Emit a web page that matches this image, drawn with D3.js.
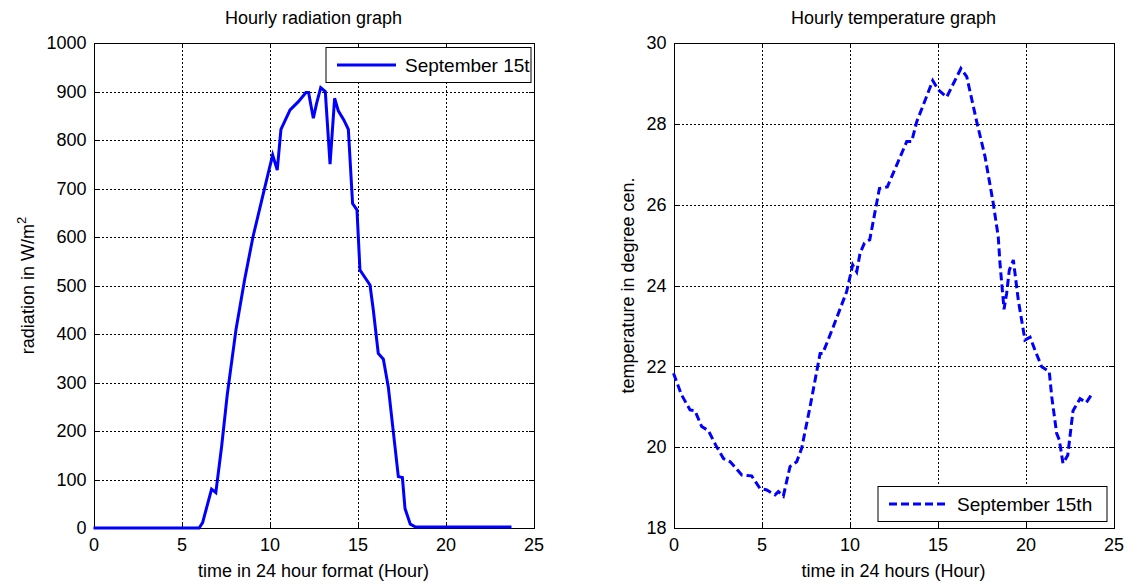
<!DOCTYPE html>
<meta charset="utf-8">
<style>
body { margin: 0; background: #fff; }
text { font-family: "Liberation Sans", Arial, sans-serif; fill: #000; }
.grid line { stroke: #000; stroke-dasharray: 2,2; shape-rendering: crispEdges; }
.grid path { display: none; }
.axis path, .axis line { stroke: #000; shape-rendering: crispEdges; }
.axis text { font-size: 18px; }
.lbl { font-size: 18px; }
.leg { font-size: 19px; }
</style>
<body>
<svg id="chart" width="1129" height="584"></svg>
<script src="https://d3js.org/d3.v7.min.js"></script>
<script>
// radiation readings, September 15th (hour, W/m2)
var radHours  = [0, 6.0, 6.2, 6.45, 6.71, 6.95, 7.28, 7.6, 8.1, 8.58, 9.06, 9.56, 9.95, 10.18, 10.44, 10.65, 11.17, 11.64, 12.07, 12.22, 12.49, 12.68, 12.91, 13.17, 13.44, 13.70, 13.91, 14.23, 14.48, 14.72, 14.97, 15.14, 15.71, 15.9, 16.18, 16.47, 16.75, 17.32, 17.55, 17.7, 18.0, 18.3, 23.75];
var radValues = [0, 0, 11, 45, 80, 73, 168, 275, 410, 511, 600, 676, 735, 769, 738, 822, 862, 879, 898, 898, 845, 876, 908, 900, 750, 886, 860, 841, 822, 669, 656, 532, 501, 449, 360, 348, 291, 106, 104, 40, 8, 2, 2];

// temperature readings (hour, deg C)
var tempHours  = [0, 0.45, 0.94, 1.22, 1.6, 1.98, 2.4, 2.84, 3.22, 3.88, 4.44, 4.91, 5.3, 5.77, 5.96, 6.24, 6.62, 7.0, 7.28, 7.76, 8.33, 8.48, 9.08, 9.84, 10.18, 10.41, 10.6, 10.85, 11.15, 11.7, 12.15, 12.68, 13.25, 13.53, 13.82, 14.73, 15.05, 15.52, 16.33, 16.66, 17.23, 17.7, 18.17, 18.45, 18.55, 18.78, 18.93, 19.08, 19.31, 19.59, 19.97, 20.26, 20.54, 20.92, 21.35, 21.49, 21.77, 21.92, 22.13, 22.4, 22.7, 23.1, 23.45, 23.75];
var tempValues = [21.83, 21.3, 20.92, 20.90, 20.51, 20.41, 20.05, 19.72, 19.64, 19.31, 19.29, 18.98, 18.94, 18.82, 18.90, 18.79, 19.52, 19.64, 19.97, 21.0, 22.32, 22.32, 22.98, 23.85, 24.51, 24.34, 24.80, 25.05, 25.13, 26.40, 26.44, 26.98, 27.56, 27.56, 28.05, 29.07, 28.84, 28.66, 29.37, 29.17, 28.05, 27.19, 26.03, 25.21, 24.55, 23.41, 23.81, 24.38, 24.63, 23.64, 22.65, 22.72, 22.40, 21.99, 21.87, 21.25, 20.34, 20.18, 19.6, 19.8, 20.9, 21.2, 21.1, 21.3];

var hourTicks = [0, 5, 10, 15, 20, 25];
var radTicks  = [0, 100, 200, 300, 400, 500, 600, 700, 800, 900, 1000];
var tempTicks = [18, 20, 22, 24, 26, 28, 30];
var seriesName = "September 15th";

var svg = d3.select("#chart");
var width = 440, height = 485;
var fmt = d3.format("d");

function panel(o) {
    var g = svg.append("g").attr("transform", "translate(" + o.left + "," + o.top + ")");

    var x = d3.scaleLinear().domain([0, 25]).range([0, width]);
    var y = d3.scaleLinear().domain(o.yDomain).range([height, 0]);

    // dotted grid
    g.append("g").attr("class", "grid")
        .attr("transform", "translate(0," + height + ")")
        .call(d3.axisBottom(x).tickValues(hourTicks.slice(1, -1)).tickSize(-height).tickFormat(""));
    g.append("g").attr("class", "grid")
        .call(d3.axisLeft(y).tickValues(o.yTicks.slice(1, -1)).tickSize(-width).tickFormat(""));

    // box with inward ticks on all sides
    g.append("g").attr("class", "axis")
        .attr("transform", "translate(0," + height + ")")
        .call(d3.axisBottom(x).tickValues(hourTicks).tickFormat(fmt).tickSizeInner(-5).tickSizeOuter(0).tickPadding(10));
    g.append("g").attr("class", "axis")
        .call(d3.axisTop(x).tickValues(hourTicks).tickSizeInner(-5).tickSizeOuter(0).tickFormat(""));
    g.append("g").attr("class", "axis")
        .call(d3.axisLeft(y).tickValues(o.yTicks).tickFormat(fmt).tickSizeInner(-5).tickSizeOuter(0).tickPadding(7));
    g.append("g").attr("class", "axis")
        .attr("transform", "translate(" + width + ",0)")
        .call(d3.axisRight(y).tickValues(o.yTicks).tickSizeInner(-5).tickSizeOuter(0).tickFormat(""));

    var line = d3.line()
        .x(function(d, i) { return x(o.xs[i]); })
        .y(function(d) { return y(d); });

    g.append("path")
        .datum(o.ys)
        .attr("fill", "none")
        .attr("stroke", "#0000ff")
        .attr("stroke-width", 3)
        .attr("stroke-dasharray", o.dash)
        .attr("d", line);

    // titles and labels
    g.append("text").attr("class", "lbl")
        .attr("x", width / 2).attr("y", -19)
        .attr("text-anchor", "middle").text(o.title);
    g.append("text").attr("class", "lbl")
        .attr("x", width / 2).attr("y", height + 49)
        .attr("text-anchor", "middle").text(o.xLabel);
    var yl = g.append("text").attr("class", "lbl")
        .attr("transform", "translate(" + o.yLabelX + "," + (height / 2) + ") rotate(-90)")
        .attr("text-anchor", "middle");
    yl.append("tspan").text(o.yLabel);
    if (o.yLabelSup) {
        yl.append("tspan").attr("dy", -8).attr("font-size", "13px").text(o.yLabelSup);
    }

    // legend, text clipped to its box
    var lw = o.legend[2], lh = 35;
    svg.append("clipPath").attr("id", o.id + "-clip")
        .append("rect").attr("width", lw).attr("height", lh);
    var lg = g.append("g").attr("transform", "translate(" + o.legend[0] + "," + o.legend[1] + ")");
    lg.append("rect").attr("width", lw).attr("height", lh)
        .attr("fill", "#fff").attr("stroke", "#000").attr("stroke-width", 1);
    lg.append("line").attr("x1", 11).attr("x2", 70).attr("y1", 17.5).attr("y2", 17.5)
        .attr("stroke", "#0000ff").attr("stroke-width", 3).attr("stroke-dasharray", o.dash);
    lg.append("text").attr("class", "leg").attr("x", 79).attr("y", 24.5)
        .attr("clip-path", "url(#" + o.id + "-clip)").text(seriesName);
}

panel({
    id: "rad", left: 93.5, top: 43,
    xs: radHours, ys: radValues, yDomain: [0, 1000], yTicks: radTicks,
    dash: null,
    title: "Hourly radiation graph",
    xLabel: "time in 24 hour format (Hour)",
    yLabel: "radiation in W/m", yLabelSup: "2", yLabelX: -60,
    legend: [232.5, 4.5, 205]
});

panel({
    id: "temp", left: 673.5, top: 43,
    xs: tempHours, ys: tempValues, yDomain: [18, 30], yTicks: tempTicks,
    dash: "8,4",
    title: "Hourly temperature graph",
    xLabel: "time in 24 hours (Hour)",
    yLabel: "temperature in degree cen.", yLabelSup: null, yLabelX: -40,
    legend: [204.5, 443.5, 229]
});
</script>
</body>
